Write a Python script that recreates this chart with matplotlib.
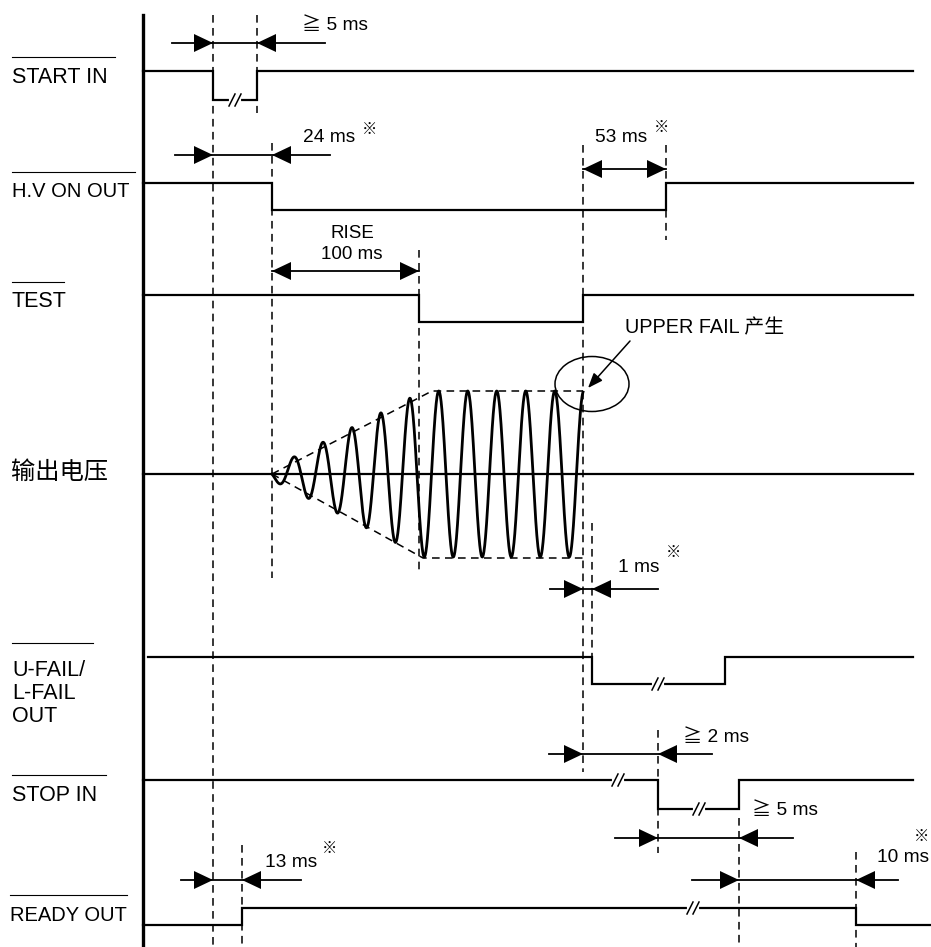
import numpy as np
import matplotlib
matplotlib.use("Agg")
import matplotlib.pyplot as plt
from matplotlib.patches import Ellipse, Polygon

LAT = ["Liberation Sans", "Noto Sans CJK SC", "DejaVu Sans"]
CJK = ["Noto Sans CJK SC", "DejaVu Sans"]

# ---- signal rows
labels = ["START IN", "H.V ON OUT", "TEST", "输出电压", "U-FAIL/\nL-FAIL\nOUT", "STOP IN", "READY OUT"]

# ---- timing of each digital signal (time axis in drawing units)
t0, t1 = 143, 913
start_edges, start_levels = [213, 257], [1, 0, 1]
hv_edges, hv_levels = [272, 666], [1, 0, 1]
test_edges, test_levels = [419, 583], [1, 0, 1]
fail_edges, fail_levels = [592, 725], [1, 0, 1]
stop_edges, stop_levels = [658, 739], [1, 0, 1]
ready_edges, ready_levels = [242, 856], [0, 1, 0]

# break marks "//" on long intervals
start_breaks = [235]
fail_breaks = [658]
stop_breaks = [618, 699]
ready_breaks = [693]

# output voltage: ramp start, ramp end, trip point, carrier period, envelope
wave_t = [272, 432, 583]
wave_period = 29
wave_amp = [6, 83]
env_top = [(272, 0), (432, 83), (583, 83)]
env_bot = [(272, 0), (423, 84), (583, 84)]

# timing marks: (label, left edge, right edge)
dims = [("≧ 5 ms", 213, 257), ("24 ms", 213, 272), ("53 ms", 583, 666),
        ("RISE\n100 ms", 272, 419), ("1 ms", 583, 592), ("≧ 2 ms", 583, 658),
        ("≧ 5 ms", 658, 739), ("10 ms", 739, 856), ("13 ms", 213, 242)]
starred = ["24 ms", "53 ms", "1 ms", "10 ms", "13 ms"]

fig = plt.figure(figsize=(9.31, 9.47), dpi=100)
ax = fig.add_axes([0, 0, 1, 1])
ax.set_xlim(0, 931)
ax.set_ylim(947, 0)
ax.axis("off")

LW = 1.6
DASH = dict(color="black", lw=1.1, ls=(0, (5, 3.5)))


def signal(edges, levels, hi, lo, x0=t0, x1=t1, breaks=()):
    ys = [hi if v else lo for v in levels]
    xs = [x0] + edges + [x1]
    px, py = [], []
    for i, y in enumerate(ys):
        px += [xs[i], xs[i + 1]]
        py += [y, y]
    ax.plot(px, py, color="black", lw=LW, solid_joinstyle="miter", zorder=3)
    for b in breaks:
        k = np.searchsorted(xs, b) - 1
        y = ys[k]
        ax.plot([b - 4, b + 4], [y, y], color="white", lw=3, zorder=4)
        for dx in (-3, 3):
            ax.plot([b + dx - 3, b + dx + 3], [y + 6, y - 6], color="black", lw=1.1, zorder=5)


def head(tip, y, direction, L=19, H=9):
    # direction +1 points right, -1 points left
    ax.add_patch(Polygon([(tip, y), (tip - direction * L, y - H), (tip - direction * L, y + H)],
                         closed=True, color="black", lw=0, zorder=6))


def dim_in(a, b, y, left, right):
    ax.plot([left, right], [y, y], color="black", lw=1.3, zorder=5)
    head(a, y, 1)
    head(b, y, -1)


def dim_out(a, b, y):
    ax.plot([a, b], [y, y], color="black", lw=1.3, zorder=5)
    head(a, y, -1)
    head(b, y, 1)


# vertical reference axis
ax.plot([143, 143], [15, 947], color="black", lw=2.4, zorder=3)

# dashed guide lines (x, top, bottom)
guides = [(213, 15, 947), (257, 15, 113), (272, 143, 578), (419, 250, 573),
          (583, 145, 772), (592, 523, 657), (666, 145, 240), (658, 730, 853),
          (739, 818, 947), (856, 852, 947), (242, 845, 947)]
for gx, g0, g1 in guides:
    ax.plot([gx, gx], [g0, g1], zorder=2, **DASH)

# left labels with overlines
lab_y = [77, 191, 301, 472, None, 795, 915]
lab_size = [15.5, 14.5, 15.5, 17.5, 15.5, 15.5, 14.5]
over = [(57, 12, 115), (172, 12, 135), (282, 12, 64), None, (643, 12, 93), (775, 12, 106), (895, 10, 127)]
for i, name in enumerate(labels):
    if name == "输出电压":
        ax.text(11, lab_y[i], name, family=CJK, fontsize=lab_size[i], va="center", ha="left")
    elif "\n" in name:
        for j, part in enumerate(name.split("\n")):
            ax.text(12, 670 + 23 * j, part, family=LAT, fontsize=lab_size[i], va="center", ha="left")
    else:
        ax.text(12 if name != "READY OUT" else 10, lab_y[i], name, family=LAT, fontsize=lab_size[i],
                va="center", ha="left")
    if over[i]:
        oy, ox0, ox1 = over[i]
        ax.plot([ox0, ox1], [oy, oy], color="black", lw=0.8)

# digital signals
signal(start_edges, start_levels, 71, 100, breaks=start_breaks)
signal(hv_edges, hv_levels, 183, 210)
signal(test_edges, test_levels, 295, 322)
signal(fail_edges, fail_levels, 657, 684, x0=148, breaks=fail_breaks)
signal(stop_edges, stop_levels, 780, 809, breaks=stop_breaks)
signal(ready_edges, ready_levels, 908, 925, x1=931, breaks=ready_breaks)

# output voltage
base = 474
ax.plot([t0, t1], [base, base], color="black", lw=LW, zorder=3)
x = np.linspace(wave_t[0], wave_t[2], 1200)
amp = np.clip(wave_amp[0] + (wave_amp[1] - wave_amp[0]) * (x - wave_t[0]) / (wave_t[1] - wave_t[0] - 8),
              0, wave_amp[1])
y = base + amp * np.sin(2 * np.pi * (x - wave_t[0]) / wave_period)
ax.plot(x, y, color="black", lw=2.0, zorder=4)
ex, ey = zip(*env_top)
ax.plot(ex, [base - v for v in ey], zorder=3, **DASH)
ex, ey = zip(*env_bot)
ax.plot(ex, [base + v for v in ey], zorder=3, **DASH)

ax.add_patch(Ellipse((592, 384), 74, 55, fill=False, color="black", lw=1.1, zorder=5))
ax.annotate("", xy=(588, 388), xytext=(630, 341),
            arrowprops=dict(arrowstyle="-|>,head_length=0.9,head_width=0.35", color="black", lw=1.1,
                            shrinkA=0, shrinkB=0))
ax.text(625, 328, "UPPER FAIL 产生", family=LAT, fontsize=14.3, va="center", ha="left")

# timing marks
dim_pos = {
    0: dict(kind="in", y=43, span=(172, 325), txt=(302, 25)),
    1: dict(kind="in", y=155, span=(175, 330), txt=(303, 137), star=(369, 129)),
    2: dict(kind="out", y=169, txt=(595, 137), star=(662, 127)),
    3: dict(kind="out", y=271, txt=(352, 244)),
    4: dict(kind="in", y=589, span=(550, 658), txt=(618, 567), star=(673, 552)),
    5: dict(kind="in", y=754, span=(549, 712), txt=(683, 737)),
    6: dict(kind="in", y=838, span=(615, 793), txt=(752, 810)),
    7: dict(kind="in", y=880, span=(692, 898), txt=(877, 857), star=(922, 836)),
    8: dict(kind="in", y=880, span=(181, 301), txt=(265, 862), star=(330, 848)),
}
for i, (txt, a, b) in enumerate(dims):
    p = dim_pos[i]
    if p["kind"] == "in":
        dim_in(a, b, p["y"], *p["span"])
    else:
        dim_out(a, b, p["y"])
    tx, ty = p["txt"]
    if "\n" in txt:
        ax.text(tx, ty, txt, family=LAT, fontsize=13.5, va="center", ha="center", linespacing=1.3)
    else:
        ax.text(tx, ty, txt, family=LAT, fontsize=13.8, va="center", ha="left")
    if txt in starred:
        sx, sy = p["star"]
        ax.text(sx, sy, "※", family=CJK, fontsize=11, va="center", ha="center")

fig.savefig("out.png", dpi=100)
